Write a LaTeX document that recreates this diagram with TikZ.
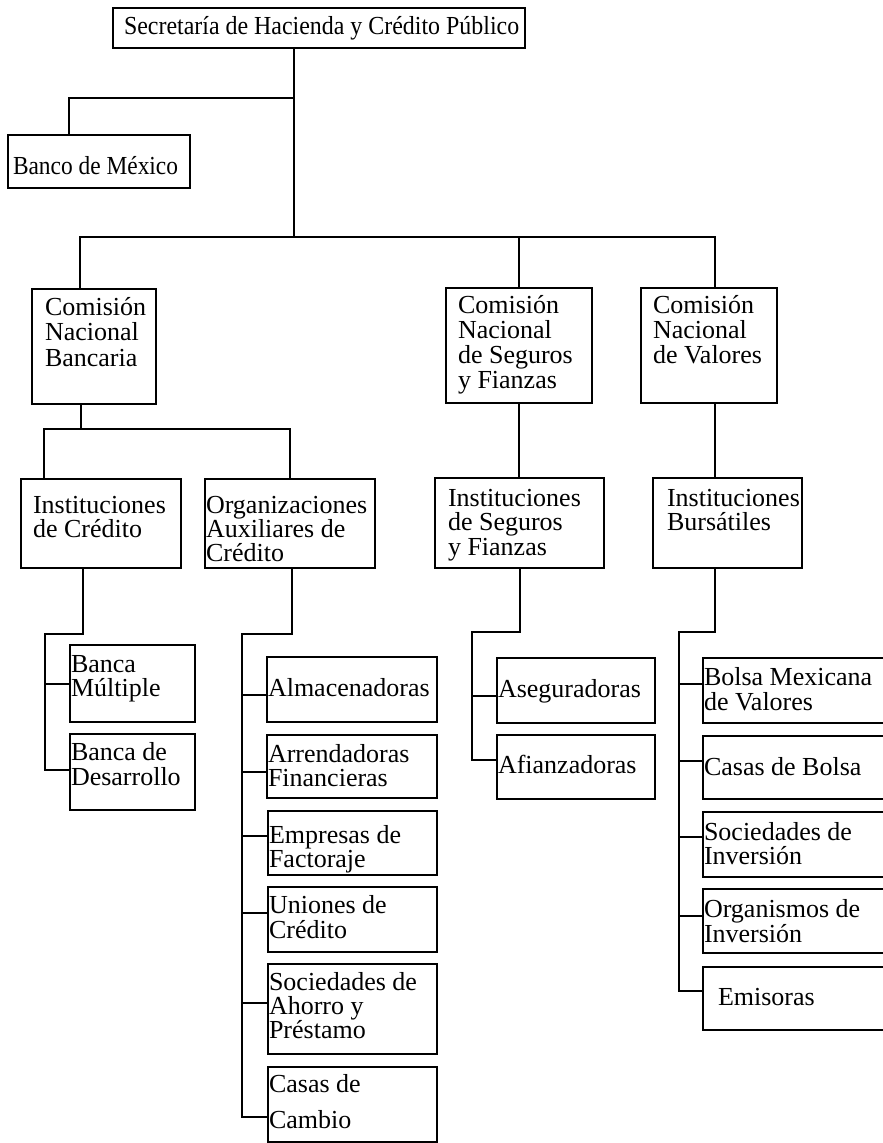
\documentclass[tikz,border=0pt]{standalone}
\usepackage{fontspec}
\usepackage{graphicx}
\setmainfont{Liberation Serif}
\newcommand\ml[2]{\vtop{\baselineskip=#1pt\lineskiplimit=-100pt\lineskip=0pt\halign{##\hfil\cr#2\crcr}}}
\newcommand\mkbox[5]{\node[boxst, anchor=north west, minimum width={#4-#2}, minimum height={#5-#3}] (#1) at (#2,-#3) {};}
\newcommand\mktxt[5]{\node[txt] (#1) at (#2,-#3) {\ml{#4}{#5}};}
\tikzset{
  boxst/.style={draw, rectangle, line width=1.6pt, inner sep=0pt, outer sep=0pt},
  txt/.style={inner sep=0pt, outer sep=0pt, anchor=base west, font=\fontsize{26}{26}\selectfont},
  conn/.style={line width=1.6pt}
}
\begin{document}
\begin{tikzpicture}[x=1pt,y=1pt]
\useasboundingbox (0,0) rectangle (883,-1143);
\fill[white] (0,0) rectangle (883,-1143);
\clip (0,0) rectangle (883,-1143);
% boxes
\mkbox{shcp}{113}{8}{525}{48}
\mkbox{banco}{8}{135}{190}{188}
\mkbox{cnb}{32}{289}{156}{404}
\mkbox{cnsf}{446}{288}{592}{403}
\mkbox{cnv}{641}{288}{777}{403}
\mkbox{ic}{21}{479}{181}{568}
\mkbox{oac}{205}{479}{375}{568}
\mkbox{isf}{435}{478}{604}{568}
\mkbox{ib}{653}{478}{802}{568}
\mkbox{bm}{70}{645}{195}{722}
\mkbox{bd}{70}{734}{195}{810}
\mkbox{alm}{267}{657}{437}{722}
\mkbox{arr}{267}{735}{437}{798}
\mkbox{emp}{268}{811}{437}{875}
\mkbox{uni}{268}{887}{437}{952}
\mkbox{sah}{268}{964}{437}{1054}
\mkbox{cca}{268}{1067}{437}{1142}
\mkbox{ase}{497}{658}{655}{723}
\mkbox{afi}{497}{735}{655}{799}
\mkbox{bmv}{703}{658}{900}{723}
\mkbox{cdb}{703}{736}{900}{799}
\mkbox{sdi}{703}{812}{900}{877}
\mkbox{odi}{703}{889}{900}{953}
\mkbox{emi}{703}{967}{900}{1030}
% texts
\node[txt] (shcpt) at (124,-34) {\scalebox{0.92}[1]{Secretaría de Hacienda y Crédito Público}};
\node[txt] (bancot) at (13,-174) {\scalebox{0.9}[1]{Banco de México}};
\mktxt{cnbt}{45}{315}{25.5}{Comisión\cr Nacional\cr Bancaria}
\mktxt{cnsft}{458}{313}{25}{Comisión\cr Nacional\cr de Seguros\cr y Fianzas}
\mktxt{cnvt}{653}{313}{25}{Comisión\cr Nacional\cr de Valores}
\mktxt{ict}{33}{513}{24}{Instituciones\cr de Crédito}
\mktxt{oact}{206}{513}{24}{Organizaciones\cr Auxiliares de\cr Crédito}
\mktxt{isft}{448}{506}{24.5}{Instituciones\cr de Seguros\cr y Fianzas}
\mktxt{ibt}{667}{506}{24}{Instituciones\cr Bursátiles}
\mktxt{bmt}{71}{672}{24}{Banca\cr Múltiple}
\mktxt{bdt}{71}{760}{25}{Banca de\cr Desarrollo}
\mktxt{almt}{268}{696}{24}{Almacenadoras}
\mktxt{arrt}{268}{762}{24}{Arrendadoras\cr Financieras}
\mktxt{empt}{269}{843}{24}{Empresas de\cr Factoraje}
\mktxt{unit}{269}{913}{25}{Uniones de\cr Crédito}
\mktxt{saht}{269}{990}{24}{Sociedades de\cr Ahorro y\cr Préstamo}
\mktxt{ccat}{269}{1092}{36}{Casas de\cr Cambio}
\mktxt{aset}{498}{697}{24}{Aseguradoras}
\mktxt{afit}{498}{773}{24}{Afianzadoras}
\mktxt{bmvt}{704}{685}{25}{Bolsa Mexicana\cr de Valores}
\mktxt{cdbt}{704}{775}{24}{Casas de Bolsa}
\mktxt{sdit}{704}{840}{24}{Sociedades de\cr Inversión}
\mktxt{odit}{704}{917}{25}{Organismos de\cr Inversión}
\mktxt{emit}{718}{1005}{24}{Emisoras}
% junctions
\coordinate (jB) at (294,-98);
\coordinate (jMain) at (294,-237);
\coordinate (jCNB) at (81,-429);
\coordinate (jIC) at (45,-634);
\coordinate (jOAC) at (242,-634);
\coordinate (jISF) at (472,-632);
\coordinate (jIB) at (679,-632);
% connectors
\draw[conn] (shcp.south -| jMain) -- (jMain);
\draw[conn] (jB) -| (banco.north -| 69,0);
\draw[conn] (cnb.north -| 80,0) |- (jMain) -| (cnv.north -| 715,0);
\draw[conn] (jMain -| 519,0) -- (cnsf.north -| 519,0);
\draw[conn] (cnb.south -| jCNB) -- (jCNB);
\draw[conn] (ic.north -| 44,0) |- (jCNB) -| (oac.north -| 290,0);
\draw[conn] (cnsf.south -| 519,0) -- (isf.north -| 519,0);
\draw[conn] (cnv.south -| 715,0) -- (ib.north -| 715,0);
% Instituciones de Credito
\draw[conn] (ic.south -| 83,0) |- (jIC) |- (bd.west |- 0,-770);
\draw[conn] (jIC |- 0,-684) -- (bm.west |- 0,-684);
% Organizaciones Auxiliares
\draw[conn] (oac.south -| 292,0) |- (jOAC) |- (cca.west |- 0,-1117);
\draw[conn] (jOAC |- 0,-695) -- (alm.west |- 0,-695);
\draw[conn] (jOAC |- 0,-772) -- (arr.west |- 0,-772);
\draw[conn] (jOAC |- 0,-836) -- (emp.west |- 0,-836);
\draw[conn] (jOAC |- 0,-913) -- (uni.west |- 0,-913);
\draw[conn] (jOAC |- 0,-1003) -- (sah.west |- 0,-1003);
% Instituciones de Seguros
\draw[conn] (isf.south -| 520,0) |- (jISF) |- (afi.west |- 0,-760);
\draw[conn] (jISF |- 0,-696) -- (ase.west |- 0,-696);
% Instituciones Bursatiles
\draw[conn] (ib.south -| 715,0) |- (jIB) |- (emi.west |- 0,-991);
\draw[conn] (jIB |- 0,-684) -- (bmv.west |- 0,-684);
\draw[conn] (jIB |- 0,-761) -- (cdb.west |- 0,-761);
\draw[conn] (jIB |- 0,-837) -- (sdi.west |- 0,-837);
\draw[conn] (jIB |- 0,-916) -- (odi.west |- 0,-916);
\end{tikzpicture}
\end{document}
